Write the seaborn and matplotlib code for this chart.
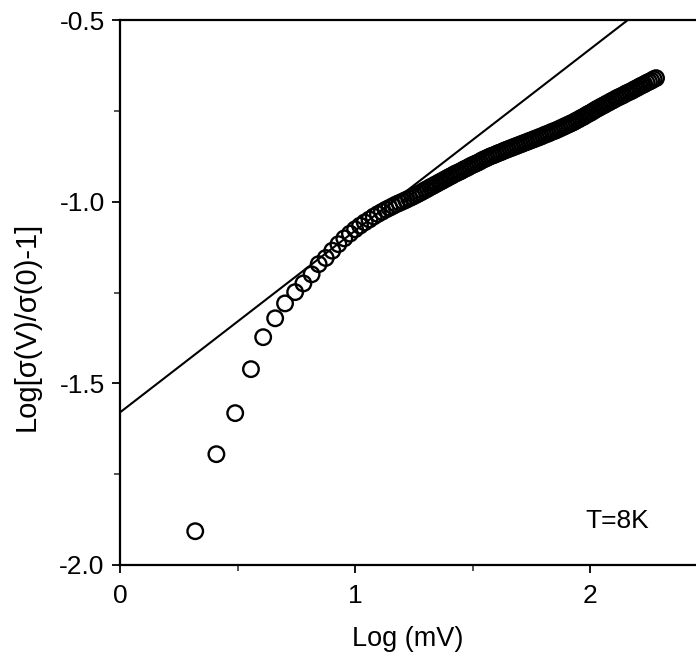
import matplotlib
matplotlib.use("Agg")
import matplotlib.pyplot as plt
import seaborn as sns
import pandas as pd
from matplotlib.ticker import MultipleLocator

# measured points, Log(mV) vs Log[sigma(V)/sigma(0)-1], T = 8 K
log_v = [
    0.32, 0.41, 0.49, 0.557, 0.609, 0.66, 0.702, 0.745, 0.78, 0.815,
    0.845, 0.875, 0.903, 0.929, 0.954, 0.978, 1.000, 1.021, 1.041, 1.061,
    1.079, 1.097, 1.114, 1.130, 1.146, 1.161, 1.176, 1.190, 1.204, 1.217,
    1.230, 1.243, 1.255, 1.267, 1.279, 1.290, 1.301,
    1.31, 1.32, 1.33, 1.34, 1.35, 1.36, 1.37, 1.38, 1.39, 1.40,
    1.41, 1.42, 1.43, 1.44, 1.45, 1.46, 1.47, 1.48, 1.49, 1.50,
    1.51, 1.52, 1.53, 1.54, 1.55, 1.56, 1.57, 1.58, 1.59, 1.60,
    1.61, 1.62, 1.63, 1.64, 1.65, 1.66, 1.67, 1.68, 1.69, 1.70,
    1.71, 1.72, 1.73, 1.74, 1.75, 1.76, 1.77, 1.78, 1.79, 1.80,
    1.81, 1.82, 1.83, 1.84, 1.85, 1.86, 1.87, 1.88, 1.89, 1.90,
    1.91, 1.92, 1.93, 1.94, 1.95, 1.96, 1.97, 1.98, 1.99, 2.00,
    2.01, 2.02, 2.03, 2.04, 2.05, 2.06, 2.07, 2.08, 2.09, 2.10,
    2.11, 2.12, 2.13, 2.14, 2.15, 2.16, 2.17, 2.18, 2.19, 2.20,
    2.21, 2.22, 2.23, 2.24, 2.25, 2.26, 2.27, 2.28,
]
log_sigma = [
    -1.907, -1.695, -1.582, -1.461, -1.373, -1.321, -1.280, -1.249, -1.225, -1.200,
    -1.172, -1.155, -1.135, -1.117, -1.101, -1.088, -1.076, -1.066, -1.057, -1.049,
    -1.041, -1.034, -1.028, -1.022, -1.017, -1.012, -1.007, -1.003, -0.999, -0.995,
    -0.991, -0.987, -0.983, -0.979, -0.975, -0.971, -0.967,
    -0.964, -0.960, -0.957, -0.953, -0.950, -0.946, -0.943, -0.939, -0.936, -0.932,
    -0.929, -0.925, -0.922, -0.919, -0.916, -0.912, -0.909, -0.906, -0.902, -0.899,
    -0.896, -0.893, -0.890, -0.886, -0.883, -0.880, -0.877, -0.874, -0.872, -0.869,
    -0.866, -0.864, -0.861, -0.858, -0.856, -0.853, -0.851, -0.848, -0.846, -0.843,
    -0.841, -0.838, -0.836, -0.833, -0.831, -0.828, -0.826, -0.823, -0.821, -0.818,
    -0.815, -0.813, -0.810, -0.807, -0.805, -0.802, -0.799, -0.796, -0.793, -0.790,
    -0.787, -0.784, -0.781, -0.777, -0.774, -0.770, -0.767, -0.763, -0.759, -0.756,
    -0.752, -0.748, -0.744, -0.741, -0.737, -0.734, -0.730, -0.727, -0.723, -0.720,
    -0.716, -0.713, -0.710, -0.707, -0.703, -0.700, -0.697, -0.694, -0.690, -0.687,
    -0.683, -0.680, -0.677, -0.673, -0.670, -0.667, -0.663, -0.660,
]

# straight line fitted to the low-bias part
fit_x = [0.0, 2.16]
fit_y = [-1.58, -0.50]

data = pd.DataFrame({"logv": log_v, "logs": log_sigma})
fit = pd.DataFrame({"x": fit_x, "y": fit_y})

sns.set_style("ticks")
plt.rcParams["font.family"] = ["Liberation Sans", "DejaVu Sans"]
plt.rcParams["text.color"] = "black"
plt.rcParams["axes.labelcolor"] = "black"

fig = plt.figure(figsize=(6.96, 6.61), dpi=100)
ax = fig.add_axes([120 / 696, 1 - 565 / 661, 1 - 120 / 696, (565 - 20) / 661])

sns.lineplot(data=fit, x="x", y="y", color="black", linewidth=1.5, ax=ax)
# open circles, so the dense part merges into a solid band
sns.scatterplot(data=data, x="logv", y="logs", s=125, marker="o",
                facecolor="none", edgecolor="black", linewidth=1.7, ax=ax, zorder=3)

ax.set_xlim(0, 2.45)
ax.set_ylim(-2.0, -0.5)
ax.xaxis.set_major_locator(MultipleLocator(1))
ax.xaxis.set_minor_locator(MultipleLocator(0.5))
ax.yaxis.set_major_locator(MultipleLocator(0.5))
ax.yaxis.set_minor_locator(MultipleLocator(0.25))
ax.yaxis.set_major_formatter(plt.FormatStrFormatter("%.1f"))

ax.spines["right"].set_visible(False)
for side in ["left", "bottom", "top"]:
    ax.spines[side].set_linewidth(1.6)
    ax.spines[side].set_color("black")

ax.tick_params(which="major", direction="out", length=6, width=1.3,
               labelsize=19, colors="black", top=False, right=False)
ax.tick_params(which="minor", direction="out", length=4, width=1.1,
               top=False, right=False)
ax.tick_params(axis="x", which="major", pad=8)
ax.tick_params(axis="y", which="major", pad=5)

ax.set_xlabel("Log (mV)", fontsize=19.5)
ax.set_ylabel("Log[σ(V)/σ(0)-1]", fontsize=21)
ax.xaxis.set_label_coords(0.5, -0.112)
ax.yaxis.set_label_coords(-0.137, 0.437)

ax.text(1.98, -1.88, "T=8K", fontsize=19, ha="left", va="center")

fig.savefig("out.png", dpi=100)
